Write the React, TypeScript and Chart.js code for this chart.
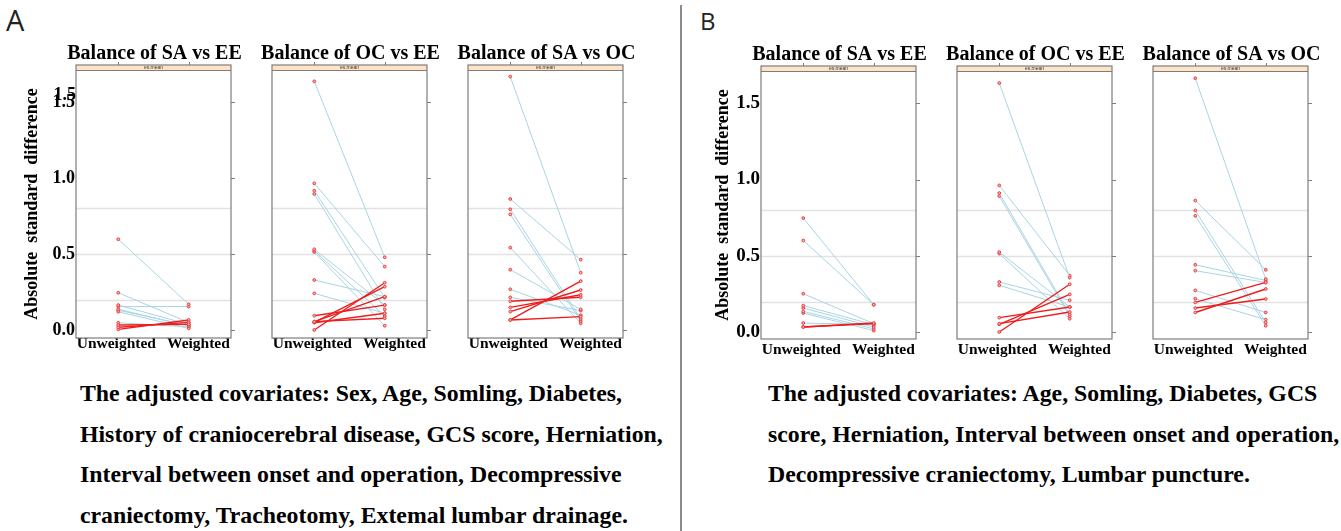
import React, { useEffect, useRef } from "react";
import { Chart, registerables } from "chart.js";

Chart.register(...registerables);

const SERIF = '"Liberation Serif", "Times New Roman", serif';

// ---- data ----
const xCategories = ["Unweighted", "Weighted"];
const xPositions = [1, 2];
const yTickValues = [0, 0.5, 1.0, 1.5];
const referenceLines = [0.2, 0.5, 0.8];
const stripLabel = "es.mean";
const yAxisTitle = "Absolute  standard  difference";

const titleSAvsEE = "Balance of SA vs EE";
const titleOCvsEE = "Balance of OC vs EE";
const titleSAvsOC = "Balance of SA vs OC";

// Panel A
const a1Unweighted = [0.597, 0.245, 0.164, 0.154, 0.136, 0.12, 0.13, 0.048, 0.033, 0.018, 0.004];
const a1Weighted = [0.169, 0.05, 0.037, 0.154, 0.026, 0.011, 0.03, 0.02, 0.037, 0.05, 0.066];

const a2Unweighted = [1.636, 0.965, 0.917, 0.895, 0.531, 0.522, 0.513, 0.329, 0.241, 0.094, 0.055, 0.05, 0.048, 0.055, 0.0];
const a2Weighted = [0.478, 0.417, 0.213, 0.136, 0.164, 0.092, 0.028, 0.219, 0.11, 0.164, 0.219, 0.285, 0.11, 0.077, 0.311];

const a3Unweighted = [1.667, 0.862, 0.794, 0.761, 0.542, 0.397, 0.268, 0.215, 0.066, 0.121, 0.149, 0.189, 0.066];
const a3Weighted = [0.377, 0.463, 0.073, 0.059, 0.044, 0.136, 0.097, 0.127, 0.322, 0.263, 0.232, 0.215, 0.088];

// Panel B
const b1Unweighted = [0.747, 0.6, 0.251, 0.173, 0.157, 0.135, 0.124, 0.059, 0.033, 0.033];
const b1Weighted = [0.179, 0.179, 0.055, 0.048, 0.033, 0.021, 0.009, 0.048, 0.059, 0.055];

const b2Unweighted = [1.632, 0.961, 0.911, 0.891, 0.524, 0.514, 0.328, 0.306, 0.094, 0.055, 0.05, 0.0];
const b2Weighted = [0.356, 0.37, 0.116, 0.103, 0.164, 0.087, 0.208, 0.164, 0.164, 0.131, 0.247, 0.313];

const b3Unweighted = [1.664, 0.862, 0.797, 0.762, 0.441, 0.402, 0.273, 0.218, 0.194, 0.157, 0.128];
const b3Weighted = [0.347, 0.408, 0.063, 0.041, 0.338, 0.325, 0.128, 0.081, 0.325, 0.216, 0.282];

const captionA = [
  "The adjusted covariates: Sex, Age, Somling, Diabetes,",
  "History of craniocerebral disease, GCS score, Herniation,",
  "Interval between onset and operation, Decompressive",
  "craniectomy, Tracheotomy, Extemal lumbar drainage.",
];
const captionB = [
  "The adjusted covariates: Age, Somling, Diabetes, GCS",
  "score, Herniation, Interval between onset and operation,",
  "Decompressive craniectomy, Lumbar puncture.",
];

// ---- styles ----
const BLUE = "#a8d4e4";
const RED = "#ee1d1d";
const POINT_EDGE = "#ec3b3b";
const POINT_FILL = "#f6b3b3";
const FRAME = "#7d7d7d";
const STRIP_FILL = "#ffe3c6";
const REF_LINE = "#e2e2e2";
const CANVAS_H = 372;
const STRIP_H = 5;
// label padding (spaces) to mimic the offset placement of the category labels
const xLabelPad = ["", "     "];
const xLabelTrail = [" ", ""];

type PanelProps = {
  title: string;
  unweighted: number[];
  weighted: number[];
  frameLeft: number;
  frameRight: number;
  titleMid: number;
  stripBottom: number;
  frameBottom: number;
  zeroY: number;
  pxPerUnit: number;
  showY: boolean;
  canvasLeft?: number;
  yTitleX?: number;
  tickFont: number;
  xPad: number;
  dupLabel?: boolean;
};

function Panel(p: PanelProps) {
  const ref = useRef<HTMLCanvasElement>(null);
  const padSide = 32;
  const left = p.showY ? (p.canvasLeft as number) : p.frameLeft - padSide;
  const width = p.frameRight + padSide - left;

  useEffect(() => {
    const canvas = ref.current;
    if (!canvas) return;
    const yMin = -(p.frameBottom - p.zeroY) / p.pxPerUnit;
    const yMax = (p.zeroY - p.stripBottom) / p.pxPerUnit;

    const datasets = p.unweighted.map((u, i) => {
      const w = p.weighted[i];
      const up = w > u;
      return {
        data: [
          { x: xPositions[0], y: u },
          { x: xPositions[1], y: w },
        ],
        showLine: true,
        borderColor: up ? RED : BLUE,
        borderWidth: up ? 1.4 : 1,
        pointRadius: 1.4,
        pointBorderWidth: 1,
        pointBorderColor: POINT_EDGE,
        pointBackgroundColor: POINT_FILL,
        order: up ? 0 : 1,
      };
    });

    const framePlugin = {
      id: "latticeFrame",
      beforeDatasetsDraw(chart: any) {
        const { ctx, chartArea } = chart;
        const ys = chart.scales.y;
        ctx.save();
        ctx.strokeStyle = REF_LINE;
        ctx.lineWidth = 1.5;
        referenceLines.forEach((v) => {
          const py = Math.round(ys.getPixelForValue(v)) + 0.5;
          ctx.beginPath();
          ctx.moveTo(chartArea.left, py);
          ctx.lineTo(chartArea.right, py);
          ctx.stroke();
        });
        ctx.restore();
      },
      afterDraw(chart: any) {
        const { ctx, chartArea } = chart;
        const ys = chart.scales.y;
        const xs = chart.scales.x;
        const l = chartArea.left;
        const r = chartArea.right;
        const t = chartArea.top;
        const b = chartArea.bottom;
        ctx.save();
        // strip
        ctx.fillStyle = STRIP_FILL;
        ctx.fillRect(l, t - STRIP_H, r - l, STRIP_H);
        ctx.strokeStyle = FRAME;
        ctx.lineWidth = 1;
        ctx.beginPath();
        ctx.moveTo(l, t + 0.5);
        ctx.lineTo(r, t + 0.5);
        ctx.stroke();
        ctx.fillStyle = "#333";
        ctx.font = "5px sans-serif";
        ctx.textAlign = "center";
        ctx.textBaseline = "middle";
        ctx.fillText(stripLabel, (l + r) / 2, t - STRIP_H / 2);
        // frame
        ctx.strokeStyle = FRAME;
        ctx.lineWidth = 1.2;
        ctx.strokeRect(l, t - STRIP_H, r - l, b - t + STRIP_H);
        // right ticks
        ctx.lineWidth = 1;
        yTickValues.forEach((v) => {
          const py = Math.round(ys.getPixelForValue(v)) + 0.5;
          ctx.beginPath();
          ctx.moveTo(r, py);
          ctx.lineTo(r + 4, py);
          ctx.stroke();
        });
        // top ticks
        xPositions.forEach((v) => {
          const px = Math.round(xs.getPixelForValue(v)) + 0.5;
          ctx.beginPath();
          ctx.moveTo(px, t - STRIP_H);
          ctx.lineTo(px, t - STRIP_H - 3);
          ctx.stroke();
        });
        // title
        ctx.fillStyle = "#000";
        ctx.font = `bold 20px ${SERIF}`;
        ctx.textAlign = "center";
        ctx.textBaseline = "middle";
        ctx.fillText(p.title, (l + r) / 2 + 1, p.titleMid);
        if (p.dupLabel) {
          ctx.font = `bold ${p.tickFont}px ${SERIF}`;
          ctx.textAlign = "right";
          ctx.fillText(
            Number(yTickValues[3]).toFixed(1),
            l,
            ys.getPixelForValue(yTickValues[3]) - 7
          );
        }
        ctx.restore();
      },
    };

    const chart = new Chart(canvas, {
      type: "scatter",
      data: { datasets: datasets as any },
      options: {
        animation: false,
        responsive: false,
        events: [],
        layout: {
          padding: {
            left: p.showY ? 0 : padSide,
            right: padSide,
            top: p.stripBottom,
            bottom: 0,
          },
        },
        plugins: {
          legend: { display: false },
          tooltip: { enabled: false },
          title: { display: false },
        },
        scales: {
          x: {
            type: "linear",
            min: 0.4,
            max: 2.6,
            afterBuildTicks: (s: any) => {
              s.ticks = xPositions.map((v) => ({ value: v }));
            },
            afterFit: (s: any) => {
              s.height = CANVAS_H - p.frameBottom;
            },
            grid: { display: false, drawTicks: false },
            border: { display: false },
            ticks: {
              callback: (_v: any, i: number) => xLabelPad[i] + xCategories[i] + xLabelTrail[i],
              color: "#000",
              font: { family: SERIF, size: 15.5, weight: "bold" },
              padding: p.xPad,
              maxRotation: 0,
              autoSkip: false,
            },
          },
          y: {
            type: "linear",
            display: p.showY,
            min: yMin,
            max: yMax,
            afterBuildTicks: (s: any) => {
              s.ticks = yTickValues.map((v) => ({ value: v }));
            },
            afterFit: (s: any) => {
              s.width = p.showY ? p.frameLeft - left : 0;
            },
            grid: { display: false, drawTicks: false },
            border: { display: false },
            ticks: {
              callback: (v: any) => Number(v).toFixed(1),
              color: "#000",
              font: { family: SERIF, size: p.tickFont, weight: "bold" },
              padding: 1,
            },
            title: {
              display: true,
              text: yAxisTitle,
              color: "#000",
              font: { family: SERIF, size: 18, weight: "bold" },
              padding: { top: ((p.yTitleX ?? 30) - left) - 10.8, bottom: 0 },
            },
          },
        },
      } as any,
      plugins: [framePlugin],
    });
    return () => chart.destroy();
  }, []);

  return (
    <canvas
      ref={ref}
      width={width}
      height={CANVAS_H}
      style={{ position: "absolute", left, top: 0, width, height: CANVAS_H }}
    />
  );
}

const captionStyle: React.CSSProperties = {
  position: "absolute",
  fontFamily: SERIF,
  fontWeight: "bold",
  fontSize: 23.8,
  lineHeight: "40.5px",
  color: "#000",
  whiteSpace: "nowrap",
};

export default function App() {
  const groupA = { titleMid: 54, stripBottom: 70, frameBottom: 338, zeroY: 330, pxPerUnit: 152, xPad: -3 };
  const groupB = { titleMid: 54.5, stripBottom: 71, frameBottom: 339, zeroY: 332, pxPerUnit: 152.5, xPad: 2 };
  return (
    <div
      style={{
        position: "fixed",
        left: 0,
        top: 0,
        width: 1341,
        height: 531,
        background: "#fff",
        overflow: "hidden",
      }}
    >
      <div style={{ position: "absolute", left: 6, top: 0, fontFamily: '"Open Sans", sans-serif', fontSize: 29, lineHeight: "normal", color: "#222" }}>A</div>
      <div style={{ position: "absolute", left: 700, top: 4, fontFamily: '"Open Sans", sans-serif', fontSize: 24, lineHeight: "normal", color: "#222" }}>B</div>
      <div style={{ position: "absolute", left: 680, top: 5, width: 2, height: 526, background: "#8c8c8c" }} />

      <Panel title={titleSAvsEE} unweighted={a1Unweighted} weighted={a1Weighted} frameLeft={76} frameRight={231} showY canvasLeft={0} yTitleX={32} tickFont={18} dupLabel {...groupA} />
      <Panel title={titleOCvsEE} unweighted={a2Unweighted} weighted={a2Weighted} frameLeft={272} frameRight={427} showY={false} tickFont={18} {...groupA} />
      <Panel title={titleSAvsOC} unweighted={a3Unweighted} weighted={a3Weighted} frameLeft={468} frameRight={623} showY={false} tickFont={18} {...groupA} />

      <Panel title={titleSAvsEE} unweighted={b1Unweighted} weighted={b1Weighted} frameLeft={761} frameRight={916} showY canvasLeft={690} yTitleX={723} tickFont={19} {...groupB} />
      <Panel title={titleOCvsEE} unweighted={b2Unweighted} weighted={b2Weighted} frameLeft={957} frameRight={1112} showY={false} tickFont={19} {...groupB} />
      <Panel title={titleSAvsOC} unweighted={b3Unweighted} weighted={b3Weighted} frameLeft={1153} frameRight={1308} showY={false} tickFont={19} {...groupB} />

      <div style={{ ...captionStyle, left: 80, top: 373 }}>
        {captionA.map((line, i) => (
          <div key={i}>{line}</div>
        ))}
      </div>
      <div style={{ ...captionStyle, left: 768, top: 373 }}>
        {captionB.map((line, i) => (
          <div key={i}>{line}</div>
        ))}
      </div>
    </div>
  );
}
